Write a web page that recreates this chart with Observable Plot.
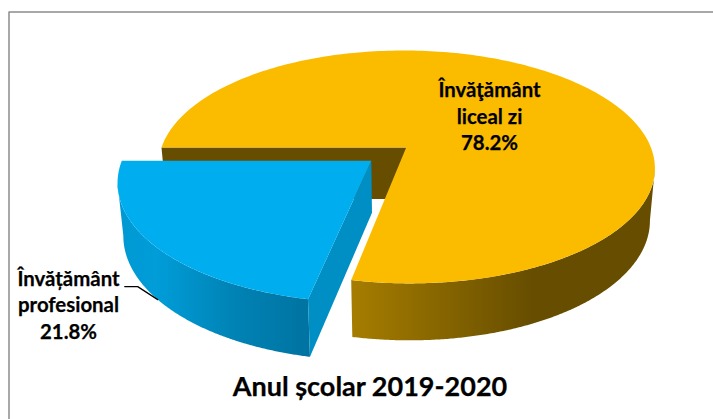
<!DOCTYPE html>
<html><head><meta charset="utf-8">
<script src="https://cdn.jsdelivr.net/npm/d3@7"></script>
<script src="https://cdn.jsdelivr.net/npm/@observablehq/plot@0.6"></script>
<style>html,body{margin:0;padding:0;background:#fff}svg{display:block}</style>
</head><body><div id="chart"></div>
<script>
const categories = ["Învăţământ liceal zi", "Învățământ profesional"];
const shares = [78.2, 21.8];
const labelLines = [["Învăţământ", "liceal zi", "78.2%"], ["Învățământ", "profesional", "21.8%"]];
const chartTitle = "Anul școlar 2019-2020";

// Pie layout: disk-to-page perspective, explosion and depth
const W = 713, H = 419;
const P = {x0: 405.7, y0: 147, a: 244.7, b: 113.2, p: 0.167, skew: 0.012, depth: 51.5, aBottom: 0.98, bBottom: 1.04, explode: 0.1824, start: 180};
const rad = d => d * Math.PI / 180;
const project = (u, v, bottom) => {
  const k = 1 / (1 - P.p * v);
  const ux = u + P.skew * v;
  return bottom
    ? {x: P.x0 + P.a * P.aBottom * ux * k, y: P.y0 + P.depth + P.b * P.bBottom * v * k}
    : {x: P.x0 + P.a * ux * k, y: P.y0 + P.b * v * k};
};
const sweep0 = shares[0] / 100 * 360;
const yStart = P.start, yEnd = P.start + sweep0, bEnd = P.start + 360;
const bMid = (yEnd + bEnd) / 2;
const off = [P.explode * Math.cos(rad(bMid)), P.explode * Math.sin(rad(bMid))];
const onRim = (deg, bottom, d = [0, 0]) => project(Math.cos(rad(deg)) + d[0], Math.sin(rad(deg)) + d[1], bottom);
const angles = (a0, a1) => d3.range(0, 241).map(i => a0 + (a1 - a0) * i / 240);
const arc = (a0, a1, bottom, d = [0, 0]) => angles(a0, a1).map(a => onRim(a, bottom, d));
const center = (bottom, d = [0, 0]) => project(d[0], d[1], bottom);

// walls stop at the silhouette angle, where the rim turns to the far side
const yellowTurn = d3.greatest(angles(360, yEnd), a => onRim(a, false).x);
const blueTurn = d3.least(angles(yEnd, bEnd), a => onRim(a, false, off).x);

const yellowTop = [center(false), ...arc(yStart, yEnd, false)];
const yellowWall = [...arc(yellowTurn, yEnd, false), ...arc(yellowTurn, yEnd, true).reverse()];
const backWall = [project(-1, 0, false), center(false), center(true), project(-1, 0, true)];
const blueTop = [center(false, off), ...arc(yEnd, bEnd, false, off)];
const blueWall = [...arc(yEnd, blueTurn, false, off), ...arc(yEnd, blueTurn, true, off).reverse()];
const blueFace = [center(false, off), onRim(yEnd, false, off), onRim(yEnd, true, off), center(true, off)];

// leader from the blue wall's lower edge (at the slice's mid-angle) back to its label
const leadEnd = onRim(bMid, true, off);
const leader = [{x: leadEnd.x - 33, y: leadEnd.y - 13}, {x: leadEnd.x - 20, y: leadEnd.y - 13}, leadEnd];

const poly = (data, fill) => Plot.line(data, {x: "x", y: "y", fill, stroke: "none", curve: "linear"});
const grad = (id, stops) => () => {
  const s = d3.create("svg:defs");
  const g = s.append("linearGradient").attr("id", id).attr("x1", 0).attr("x2", 1).attr("y1", 0).attr("y2", 0);
  stops.forEach(([o, c]) => g.append("stop").attr("offset", o).attr("stop-color", c));
  return s.node();
};
const labelRows = (lines, x, y0, dy) => lines.map((text, i) => ({text, x, y: y0 + i * dy}));
const font = "Lato, sans-serif";
const lab = (rows, size) => Plot.text(rows, {x: "x", y: "y", text: "text", fontFamily: font, fontWeight: 700, fontSize: size, fill: "#000", stroke: "#000", strokeWidth: 0.25, textAnchor: "middle", lineAnchor: "middle"});

const chart = Plot.plot({
  width: W, height: H, margin: 0,
  x: {domain: [0, W], range: [0, W], axis: null},
  y: {domain: [0, H], range: [0, H], axis: null},
  style: {background: "#fff"},
  marks: [
    grad("gy", [[0, "#a67d00"], [0.6, "#664d00"], [1, "#664d00"]]),
    grad("gb", [[0, "#0098d2"], [0.2, "#009dd9"], [0.6, "#0083b5"], [1, "#0073a1"]]),
    Plot.line([{x: 8.5, y: H}, {x: 8.5, y: 11.5}, {x: W, y: 11.5}], {x: "x", y: "y", stroke: "#8c8c8c", strokeWidth: 1.5}),
    poly(backWall, "#664d00"),
    poly(yellowWall, "url(#gy)"),
    poly(yellowTop, "#fbbc00"),
    poly(blueWall, "url(#gb)"),
    poly(blueFace, "#008fc4"),
    poly(blueTop, "#00aeef"),
    Plot.line(leader, {x: "x", y: "y", stroke: "#000", strokeWidth: 1.2}),
    lab(labelRows(labelLines[0], 489, 90, 26.5), 20.4),
    lab(labelRows(labelLines[1], 68, 279, 26.3), 20.4),
    lab([{text: chartTitle, x: 369.5, y: 387}], 27)
  ]
});
document.getElementById("chart").append(chart);
</script></body></html>
